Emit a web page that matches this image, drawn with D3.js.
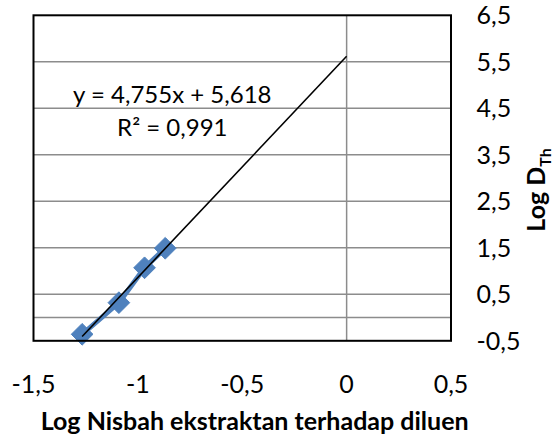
<!DOCTYPE html>
<html>
<head>
<meta charset="utf-8">
<script src="https://cdn.jsdelivr.net/npm/d3@7"></script>
<style>
  html, body { margin: 0; padding: 0; background: #fff; }
  svg { display: block; font-family: Lato, "Open Sans", sans-serif; }
</style>
</head>
<body>
<svg id="chart" width="556" height="437"></svg>
<script>
// Measured points: log of extractant/diluent ratio vs log D(Th)
const logRatio = [-1.267, -1.091, -0.968, -0.869];
const logD = [-0.36, 0.32, 1.07, 1.49];

// Linear trendline (least squares), extended forward to x = 0
const trendSlope = 4.755;
const trendIntercept = 5.618;
const trendR2 = 0.991;
const trendEndX = 0;

const xTicks = [-1.5, -1, -0.5, 0, 0.5];
const yTicks = [-0.5, 0.5, 1.5, 2.5, 3.5, 4.5, 5.5, 6.5];
const yGrid = [0, 0.5, 1.5, 2.5, 3.5, 4.5, 5.5];

const xTitle = "Log Nisbah ekstraktan terhadap diluen";

const svg = d3.select("#chart");
const fmt = d3.formatLocale({ decimal: ",", thousands: ".", grouping: [3], currency: ["", ""] });
const num = v => fmt.format("")(v).replace("−", "-");
const fix = (v, n) => fmt.format("." + n + "f")(v).replace("−", "-");

const x = d3.scaleLinear().domain([-1.5, 0.5]).range([33.5, 451]);
const y = d3.scaleLinear().domain([-0.5, 6.5]).range([340.8, 15.3]);

const plot = svg.append("g");

// Horizontal gridlines (and the horizontal axis line at 0)
plot.selectAll("line.hgrid").data(yGrid).join("line")
  .attr("class", "hgrid")
  .attr("x1", x.range()[0]).attr("x2", x.range()[1])
  .attr("y1", d => y(d)).attr("y2", d => y(d))
  .attr("stroke", "#8c8c8c").attr("stroke-width", 1.5);

// Vertical axis line at x = 0
plot.append("line")
  .attr("x1", x(0)).attr("x2", x(0))
  .attr("y1", y.range()[1]).attr("y2", y.range()[0])
  .attr("stroke", "#8c8c8c").attr("stroke-width", 1.5);

// Series line with diamond markers
const pts = logRatio.map((v, i) => [v, logD[i]]);
plot.append("path")
  .datum(pts)
  .attr("fill", "none")
  .attr("stroke", "#4f81bd")
  .attr("stroke-width", 5)
  .attr("stroke-linejoin", "round")
  .attr("d", d3.line().x(d => x(d[0])).y(d => y(d[1])));

const diamond = d3.symbol().type(d3.symbolDiamond2).size(300);
plot.selectAll("path.marker").data(pts).join("path")
  .attr("class", "marker")
  .attr("transform", d => `translate(${x(d[0])},${y(d[1])})`)
  .attr("d", diamond)
  .attr("fill", "#4f81bd")
  .attr("stroke", "#4f81bd")
  .attr("stroke-width", 1)
  .attr("stroke-linejoin", "round");

// Trendline
const tx0 = d3.min(logRatio);
plot.append("line")
  .attr("x1", x(tx0)).attr("y1", y(trendSlope * tx0 + trendIntercept))
  .attr("x2", x(trendEndX)).attr("y2", y(trendSlope * trendEndX + trendIntercept))
  .attr("stroke", "#000").attr("stroke-width", 1.6);

// Plot area border
plot.append("rect")
  .attr("x", x.range()[0]).attr("y", y.range()[1])
  .attr("width", x.range()[1] - x.range()[0])
  .attr("height", y.range()[0] - y.range()[1])
  .attr("fill", "none").attr("stroke", "#000").attr("stroke-width", 2);

// Y tick labels on the right side
svg.append("g").selectAll("text").data(yTicks).join("text")
  .attr("x", 476.5)
  .attr("y", d => y(d) + 9)
  .attr("font-size", 25)
  .attr("fill", "#000")
  .text(d => num(d));

// X tick labels
svg.append("g").selectAll("text").data(xTicks).join("text")
  .attr("x", d => x(d))
  .attr("y", 392.5)
  .attr("text-anchor", "middle")
  .attr("font-size", 25)
  .attr("fill", "#000")
  .text(d => num(d));

// Trendline equation
const eq = svg.append("text")
  .attr("text-anchor", "middle")
  .attr("font-size", 24)
  .attr("fill", "#000");
eq.append("tspan").attr("x", 172.3).attr("y", 103.3)
  .text(`y = ${fix(trendSlope, 3)}x + ${fix(trendIntercept, 3)}`);
eq.append("tspan").attr("x", 172.3).attr("y", 136)
  .text(`R² = ${fix(trendR2, 3)}`);

// Axis titles
svg.append("text")
  .attr("x", 254.7).attr("y", 429.5)
  .attr("text-anchor", "middle")
  .attr("font-size", 25).attr("font-weight", "bold")
  .attr("fill", "#000")
  .text(xTitle);

const yt = svg.append("text")
  .attr("transform", "translate(545,190) rotate(-90)")
  .attr("text-anchor", "middle")
  .attr("font-size", 25).attr("font-weight", "bold")
  .attr("fill", "#000");
yt.append("tspan").text("Log D");
yt.append("tspan").attr("font-size", 16).attr("dy", 6).text("Th");
</script>
</body>
</html>
